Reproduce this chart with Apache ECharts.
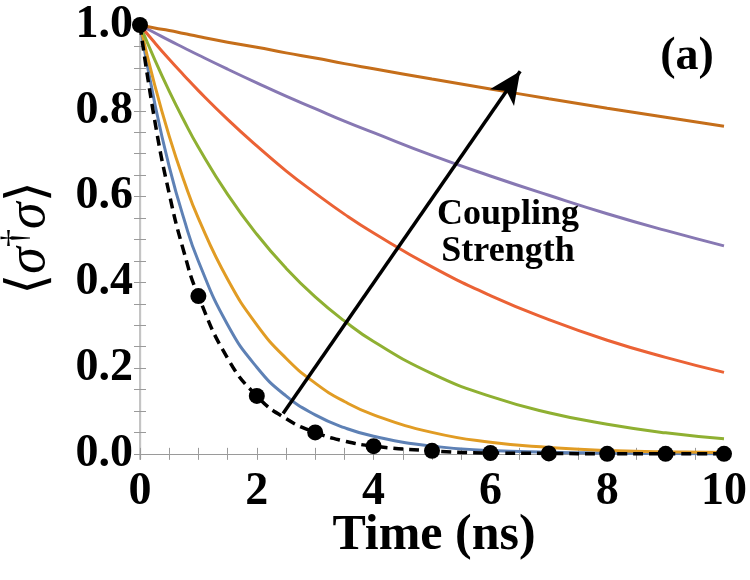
<!DOCTYPE html>
<html>
<head>
<meta charset="utf-8">
<script src="https://cdn.jsdelivr.net/npm/echarts@6/dist/echarts.min.js"></script>
<style>
  html, body { margin: 0; padding: 0; background: #fff; }
  #chart { width: 750px; height: 580px; }
</style>
</head>
<body>
<div id="chart"></div>
<script>
// time samples (ns) shared by all curves
const times = [0, 0.25, 0.5, 0.75, 1, 1.5, 2, 2.5, 3, 3.5, 4, 5, 6, 7, 8, 9, 10]

// curves, weakest to strongest coupling
const blueVals   = [1, 0.819, 0.670, 0.549, 0.449, 0.301, 0.202, 0.135, 0.091, 0.061, 0.041, 0.018, 0.008, 0.004, 0.002, 0.001, 0.0]
const orangeVals = [1, 0.861, 0.741, 0.638, 0.549, 0.407, 0.301, 0.223, 0.165, 0.122, 0.091, 0.050, 0.027, 0.015, 0.008, 0.005, 0.003]
const greenVals  = [1, 0.920, 0.846, 0.778, 0.715, 0.605, 0.512, 0.433, 0.366, 0.310, 0.262, 0.187, 0.134, 0.096, 0.069, 0.049, 0.035]
const redVals    = [1, 0.959, 0.920, 0.883, 0.847, 0.780, 0.718, 0.660, 0.608, 0.559, 0.515, 0.436, 0.369, 0.313, 0.265, 0.225, 0.190]
const purpleVals = [1, 0.982, 0.964, 0.947, 0.930, 0.897, 0.865, 0.834, 0.805, 0.776, 0.749, 0.696, 0.648, 0.603, 0.560, 0.521, 0.485]
const brownVals  = [1, 0.993, 0.987, 0.980, 0.973, 0.960, 0.948, 0.935, 0.923, 0.910, 0.898, 0.874, 0.851, 0.828, 0.806, 0.785, 0.764]

// uncoupled reference (dashed) and its sample points
const refVals  = [1, 0.779, 0.607, 0.472, 0.368, 0.223, 0.135, 0.082, 0.050, 0.030, 0.018, 0.007, 0.002, 0.001, 0.0, 0.0, 0.0]
const dotTimes = [0, 1, 2, 3, 4, 5, 6, 7, 8, 9, 10]
const dotVals  = [1, 0.368, 0.135, 0.050, 0.018, 0.007, 0.002, 0.001, 0.0, 0.0, 0.0]

// ticks
const xLabels = [0, 2, 4, 6, 8, 10]
const xTicks = [0, 0.5, 1, 1.5, 2, 2.5, 3, 3.5, 4, 4.5, 5, 5.5, 6, 6.5, 7, 7.5, 8, 8.5, 9, 9.5, 10]
const yLabels = [0, 0.2, 0.4, 0.6, 0.8, 1.0]
const yTicks = [0, 0.05, 0.1, 0.15, 0.2, 0.25, 0.3, 0.35, 0.4, 0.45, 0.5, 0.55, 0.6, 0.65, 0.7, 0.75, 0.8, 0.85, 0.9, 0.95, 1.0]

// arrow "coupling strength" from tail to tip
const arrowFrom = [2.45, 0.094]
const arrowTo = [6.51, 0.892]

const serif = '"Liberation Serif", "DejaVu Serif", serif'
const frameGray = '#9a9a9a'

function pairs(xs, ys) {
  return xs.map((x, i) => [x, ys[i]])
}

function curve(name, vals, color) {
  return {
    name: name,
    type: 'line',
    data: pairs(times, vals),
    smooth: true,
    symbol: 'none',
    lineStyle: { color: color, width: 3 },
    z: 3
  }
}

const axisCommon = {
  axisLine: { show: true, lineStyle: { color: frameGray, width: 1.2 } },
  axisTick: { show: true, inside: true, length: 6, lineStyle: { color: frameGray, width: 1 } },
  splitLine: { show: false }
}

const chart = echarts.init(document.getElementById('chart'))
const option = {
  animation: false,
  backgroundColor: '#fff',
  grid: { left: 140, top: 19, width: 586, height: 440, containLabel: false },
  xAxis: [
    Object.assign({}, axisCommon, {
      type: 'value', min: 0, max: 10, position: 'bottom',
      axisTick: Object.assign({}, axisCommon.axisTick, { customValues: xTicks }),
      axisLabel: {
        customValues: xLabels, margin: 10,
        fontFamily: serif, fontWeight: 'bold', fontSize: 46, color: '#000',
        formatter: v => String(v)
      }
    }),
    Object.assign({}, axisCommon, {
      type: 'value', min: 0, max: 10, position: 'top',
      axisTick: Object.assign({}, axisCommon.axisTick, { customValues: xTicks }),
      axisLabel: { show: false }
    })
  ],
  yAxis: [
    Object.assign({}, axisCommon, {
      type: 'value', min: -0.012, max: 1.014, position: 'left',
      axisTick: Object.assign({}, axisCommon.axisTick, { customValues: yTicks }),
      axisLabel: {
        customValues: yLabels, margin: 7,
        fontFamily: serif, fontWeight: 'bold', fontSize: 46, color: '#000',
        formatter: v => v.toFixed(1)
      }
    }),
    Object.assign({}, axisCommon, {
      type: 'value', min: -0.012, max: 1.014, position: 'right',
      axisLine: { show: true, lineStyle: { color: '#c4c4c4', width: 2 } },
      axisTick: Object.assign({}, axisCommon.axisTick, { customValues: yTicks }),
      axisLabel: { show: false }
    })
  ],
  series: [
    curve('c1', blueVals, '#5E81B5'),
    curve('c2', orangeVals, '#E19C24'),
    curve('c3', greenVals, '#8FB032'),
    curve('c4', redVals, '#EB6235'),
    curve('c5', purpleVals, '#8778B3'),
    curve('c6', brownVals, '#C56E1A'),
    {
      name: 'reference',
      type: 'line',
      data: pairs(times, refVals),
      smooth: true,
      symbol: 'none',
      lineStyle: { color: '#000', width: 3.5, type: [10, 6] },
      z: 4
    },
    {
      name: 'samples',
      type: 'scatter',
      data: pairs(dotTimes, dotVals),
      symbol: 'circle',
      symbolSize: 16,
      itemStyle: { color: '#000', opacity: 1 },
      clip: false,
      z: 5
    },
    {
      name: 'arrow',
      type: 'line',
      data: [],
      markLine: {
        silent: true,
        symbol: ['none', 'arrow'],
        symbolSize: [22, 32],
        label: { show: false },
        lineStyle: { color: '#000', width: 3.5, type: 'solid' },
        data: [[{ coord: arrowFrom }, { coord: arrowTo }]]
      },
      z: 6
    }
  ],
  graphic: [
    {
      type: 'text', x: 508, y: 233,
      style: {
        text: 'Coupling\nStrength', fill: '#000', align: 'center', verticalAlign: 'middle',
        font: 'bold 36px ' + serif, lineHeight: 37
      },
      z: 10
    },
    {
      type: 'text', x: 687, y: 57,
      style: {
        text: '(a)', fill: '#000', align: 'center', verticalAlign: 'middle',
        font: 'bold 46px ' + serif
      },
      z: 10
    },
    {
      type: 'text', x: 434, y: 536,
      style: {
        text: 'Time (ns)', fill: '#000', align: 'center', verticalAlign: 'middle',
        font: 'bold 50px ' + serif
      },
      z: 10
    },
    {
      type: 'text', x: 30, y: 238, rotation: Math.PI / 2,
      style: {
        text: '{n|⟨}{s|σ}{d|†}{s|σ}{n|⟩}',
        align: 'center', verticalAlign: 'middle', fill: '#000',
        rich: {
          n: { fontFamily: serif, fontSize: 54, fill: '#000' },
          s: { fontFamily: serif, fontSize: 54, fontStyle: 'italic', fill: '#000' },
          d: { fontFamily: serif, fontSize: 36, fill: '#000', padding: [0, 0, 26, 0] }
        }
      },
      z: 10
    }
  ]
}
chart.setOption(option)
window.addEventListener('resize', chart.resize)
</script>
</body>
</html>
